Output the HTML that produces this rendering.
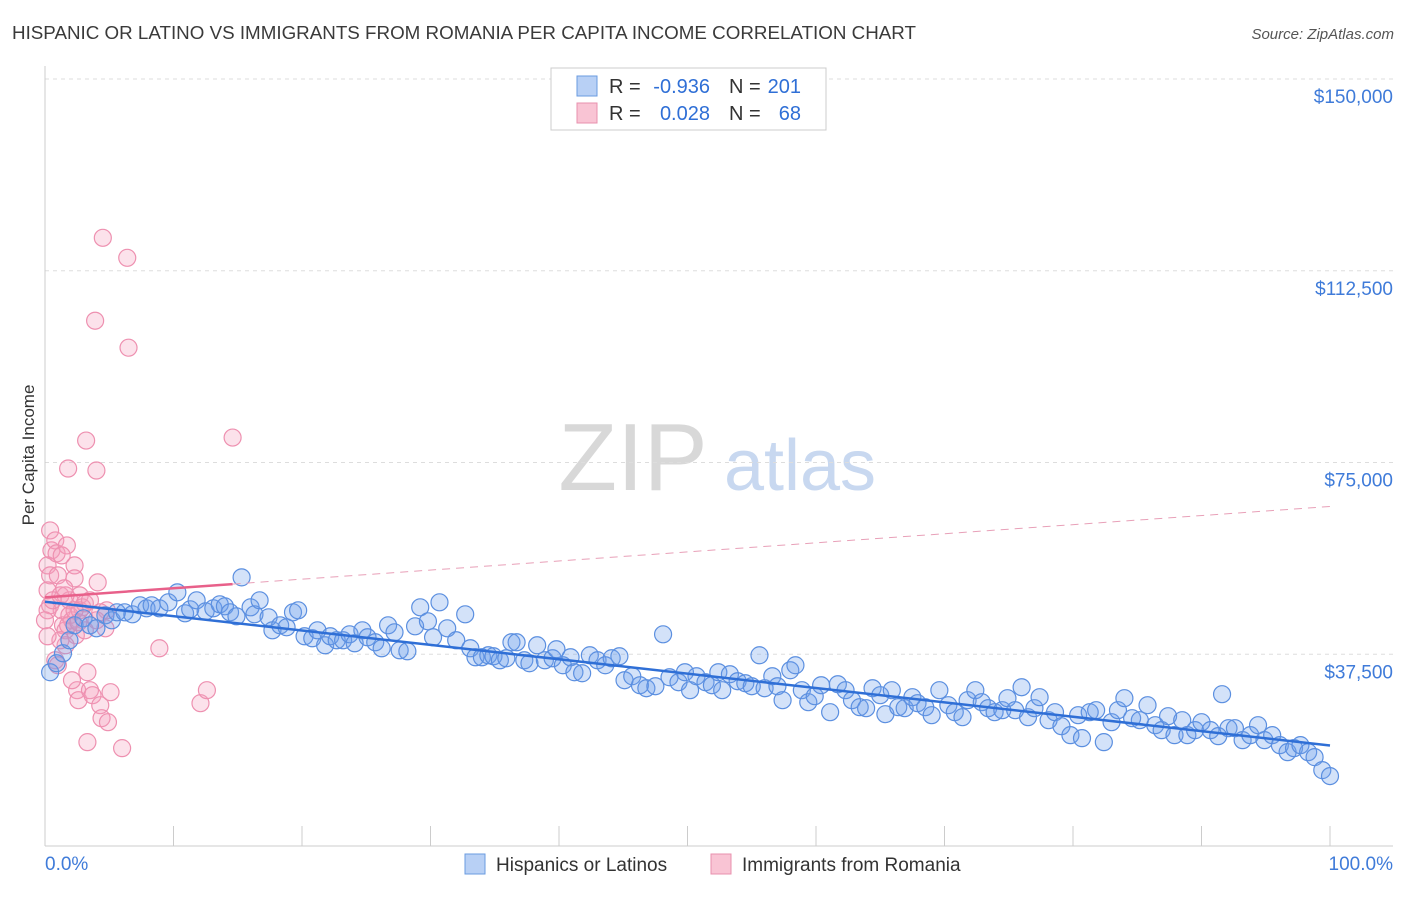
<!DOCTYPE html>
<html><head><meta charset="utf-8">
<style>
body{margin:0;background:#fff;font-family:"Liberation Sans",sans-serif;}
svg text{font-family:"Liberation Sans",sans-serif;}
</style></head>
<body>
<svg id="chart" width="1406" height="892" xmlns="http://www.w3.org/2000/svg">
<text x="12" y="39" font-size="18" fill="#3a3a3a" textLength="904" lengthAdjust="spacingAndGlyphs">HISPANIC OR LATINO VS IMMIGRANTS FROM ROMANIA PER CAPITA INCOME CORRELATION CHART</text>
<text x="1394" y="39" font-size="15" fill="#555" text-anchor="end" font-style="italic">Source: ZipAtlas.com</text>
<text transform="translate(34,455) rotate(-90)" font-size="17" fill="#333" text-anchor="middle">Per Capita Income</text>
<g>
<text x="633" y="490" font-size="96" fill="#d8d8d8" text-anchor="middle" font-family="Liberation Serif, serif">ZIP</text>
<text x="800" y="490" font-size="72" fill="#c8d8f0" text-anchor="middle">atlas</text>
</g>
<g id="grid"></g><g id="pts"></g><g id="lines"></g>
<g>
<rect x="551" y="68" width="275" height="62" fill="#fff" stroke="#ccc"/>
<rect x="577" y="76" width="20" height="20" fill="#b8d0f5" stroke="#6a9be0"/>
<rect x="577" y="103" width="20" height="20" fill="#f9c4d4" stroke="#e890ae"/>
<text x="609" y="93" font-size="20" fill="#333">R =</text>
<text x="710" y="93" font-size="20" fill="#2f6fd6" text-anchor="end">-0.936</text>
<text x="729" y="93" font-size="20" fill="#333">N =</text>
<text x="801" y="93" font-size="20" fill="#2f6fd6" text-anchor="end">201</text>
<text x="609" y="120" font-size="20" fill="#333">R =</text>
<text x="710" y="120" font-size="20" fill="#2f6fd6" text-anchor="end">0.028</text>
<text x="729" y="120" font-size="20" fill="#333">N =</text>
<text x="801" y="120" font-size="20" fill="#2f6fd6" text-anchor="end">68</text>
</g>
<g>
<rect x="465" y="854" width="20" height="20" fill="#b8d0f5" stroke="#6a9be0"/>
<text x="496" y="871" font-size="19" fill="#333">Hispanics or Latinos</text>
<rect x="711" y="854" width="20" height="20" fill="#f9c4d4" stroke="#e890ae"/>
<text x="742" y="871" font-size="19" fill="#333">Immigrants from Romania</text>
</g>
<text x="45" y="870" font-size="19" fill="#3f7bd9">0.0%</text>
<text x="1393" y="870" font-size="19" fill="#3f7bd9" text-anchor="end">100.0%</text>
</svg>
<script>
const yTicks=[37500,75000,112500,150000];
const yTickLabels=["$37,500","$75,000","$112,500","$150,000"];
const pinkTrend=[48630,177.7]; // intercept, slope per percent
const bluePx=[[50,672],[57,663],[63,653],[70,640],[75,625],[83,618],[90,625],[97,628],[105,615],[112,620],[117,612],[125,612],[132,614],[140,605],[147,608],[152,605],[160,608],[168,602],[177,592],[185,613],[190,609],[197,600],[205,611],[213,608],[220,604],[225,606],[230,612],[237,616],[242,577],[250,607],[255,614],[260,600],[268,617],[273,630],[280,625],[287,627],[293,612],[298,610],[305,636],[312,638],[318,630],[325,645],[330,636],[337,640],[343,640],[350,634],[355,643],[362,630],[368,637],[375,642],[382,648],[388,625],[395,632],[400,650],[407,651],[415,626],[420,607],[428,621],[433,637],[440,602],[447,628],[456,640],[465,614],[470,648],[476,657],[482,657],[488,655],[494,656],[500,660],[506,658],[512,642],[517,642],[524,660],[530,663],[537,645],[545,660],[552,658],[557,649],[563,665],[570,657],[575,672],[582,673],[590,655],[597,660],[605,665],[612,658],[620,656],[625,680],[632,676],[640,685],[647,688],[655,686],[663,634],[670,677],[678,682],[685,672],[690,690],[697,676],[705,682],[712,685],[718,672],[722,690],[730,674],[737,681],[745,683],[752,686],[760,655],[765,688],[772,676],[778,686],[783,700],[790,670],[796,665],[802,690],[808,702],[815,696],[821,685],[830,712],[838,684],[845,690],[852,700],[860,707],[866,708],[872,688],[880,695],[885,714],[892,690],[898,707],[905,708],[912,697],[918,703],[925,707],[932,715],[940,690],[948,705],[955,712],[962,717],[968,700],[975,690],[982,702],[988,708],[995,712],[1002,710],[1008,698],[1015,710],[1022,687],[1028,717],[1035,708],[1040,697],[1048,720],[1055,712],[1062,726],[1070,735],[1078,715],[1082,738],[1090,712],[1096,710],[1104,742],[1112,722],[1118,710],[1125,698],[1132,718],[1140,720],[1148,705],[1155,725],[1162,730],[1168,716],[1175,735],[1182,720],[1188,735],[1195,730],[1202,722],[1210,730],[1218,736],[1222,694],[1228,728],[1235,728],[1242,740],[1250,735],[1258,725],[1265,740],[1272,735],[1280,745],[1288,752],[1294,748],[1300,745],[1308,752],[1315,757],[1322,770],[1330,776]];
const pinkPx=[[50,530],[52,550],[48,565],[50,575],[47,590],[50,605],[55,540],[57,553],[58,575],[60,595],[62,610],[63,625],[65,630],[67,545],[68,468],[70,600],[72,620],[74,565],[75,578],[76,635],[77,690],[78,700],[80,595],[82,607],[85,630],[86,440],[87,672],[88,742],[90,690],[92,695],[95,320],[97,470],[98,582],[100,705],[102,718],[103,237],[105,628],[107,610],[108,722],[110,692],[122,748],[127,257],[129,347],[160,648],[200,703],[207,690],[232,437],[65,645],[60,640],[55,660],[72,680],[58,665],[62,555],[66,595],[70,615],[48,610],[53,600],[45,620],[47,636],[80,610],[85,603],[90,600],[75,610],[68,625],[96,620],[100,612],[64,588],[78,622]];
const blueX=bluePx.map(p=>+((p[0]-45)/12.85).toFixed(1));
const blueY=bluePx.map(p=>Math.round((846-p[1])*195.3));
const pinkX=pinkPx.map(p=>+((p[0]-45)/12.85).toFixed(1));
const pinkY=pinkPx.map(p=>Math.round((846-p[1])*195.3));
const X0=45,X1=1330,Y0=846,YMAX=150000,YTOP=79;
const sx=v=>X0+v/100*(X1-X0);
const sy=v=>Y0-v/YMAX*(Y0-YTOP);
const NS="http://www.w3.org/2000/svg";
function mk(t,a,p){const e=document.createElementNS(NS,t);for(const k in a)e.setAttribute(k,a[k]);p.appendChild(e);return e;}
const grid=document.getElementById('grid');
yTicks.forEach((t,i)=>{
 const l=mk('line',{x1:45,x2:1393,y1:sy(t),y2:sy(t),stroke:'#ddd','stroke-dasharray':'4,4'},grid);
 
 
 const tx=mk('text',{x:1393,y:sy(t)+24,'font-size':19,fill:'#3f7bd9','text-anchor':'end'},grid);
 tx.textContent=yTickLabels[i];
 
 
});
mk('line',{x1:45,x2:45,y1:66,y2:846,stroke:'#ccc'},grid);
mk('line',{x1:45,x2:1393,y1:846,y2:846,stroke:'#ccc'},grid);
for(let i=1;i<=10;i++){mk('line',{x1:sx(i*10),x2:sx(i*10),y1:826,y2:846,stroke:'#ccc'},grid);}
const pts=document.getElementById('pts');
pinkX.forEach((x,i)=>{
 const c=mk('circle',{cx:sx(x),cy:sy(pinkY[i]),r:8.5,fill:'rgba(244,160,190,0.3)',stroke:'#ee90b0','stroke-width':1.2},pts);
 
 
});
blueX.forEach((x,i)=>{
 const c=mk('circle',{cx:sx(x),cy:sy(blueY[i]),r:8.5,fill:'rgba(110,160,235,0.3)',stroke:'#5b8fe0','stroke-width':1.2},pts);
 
 
});
function reg(xs,ys){const n=xs.length;let mx=0,my=0;for(let i=0;i<n;i++){mx+=xs[i];my+=ys[i];}mx/=n;my/=n;let a=0,b=0;for(let i=0;i<n;i++){a+=(xs[i]-mx)*(ys[i]-my);b+=(xs[i]-mx)**2;}const s=a/b;return [s,my-s*mx];}
const lines=document.getElementById('lines');
const [bs,bi]=reg(blueX,blueY);
const bl=mk('line',{x1:sx(0),y1:sy(bi),x2:sx(100),y2:sy(bi+bs*100),stroke:'#2f6fd6','stroke-width':2.5},lines);


const pi=pinkTrend[0],ps=pinkTrend[1];
const pmax=Math.max(...pinkX);
const pl=mk('line',{x1:sx(0),y1:sy(pi),x2:sx(pmax),y2:sy(pi+ps*pmax),stroke:'#e8608a','stroke-width':2.5},lines);


const pd=mk('line',{x1:sx(pmax),y1:sy(pi+ps*pmax),x2:sx(100),y2:sy(pi+ps*100),stroke:'#e8a0b8','stroke-width':1,'stroke-dasharray':'8,6'},lines);


</script>
</body></html>
